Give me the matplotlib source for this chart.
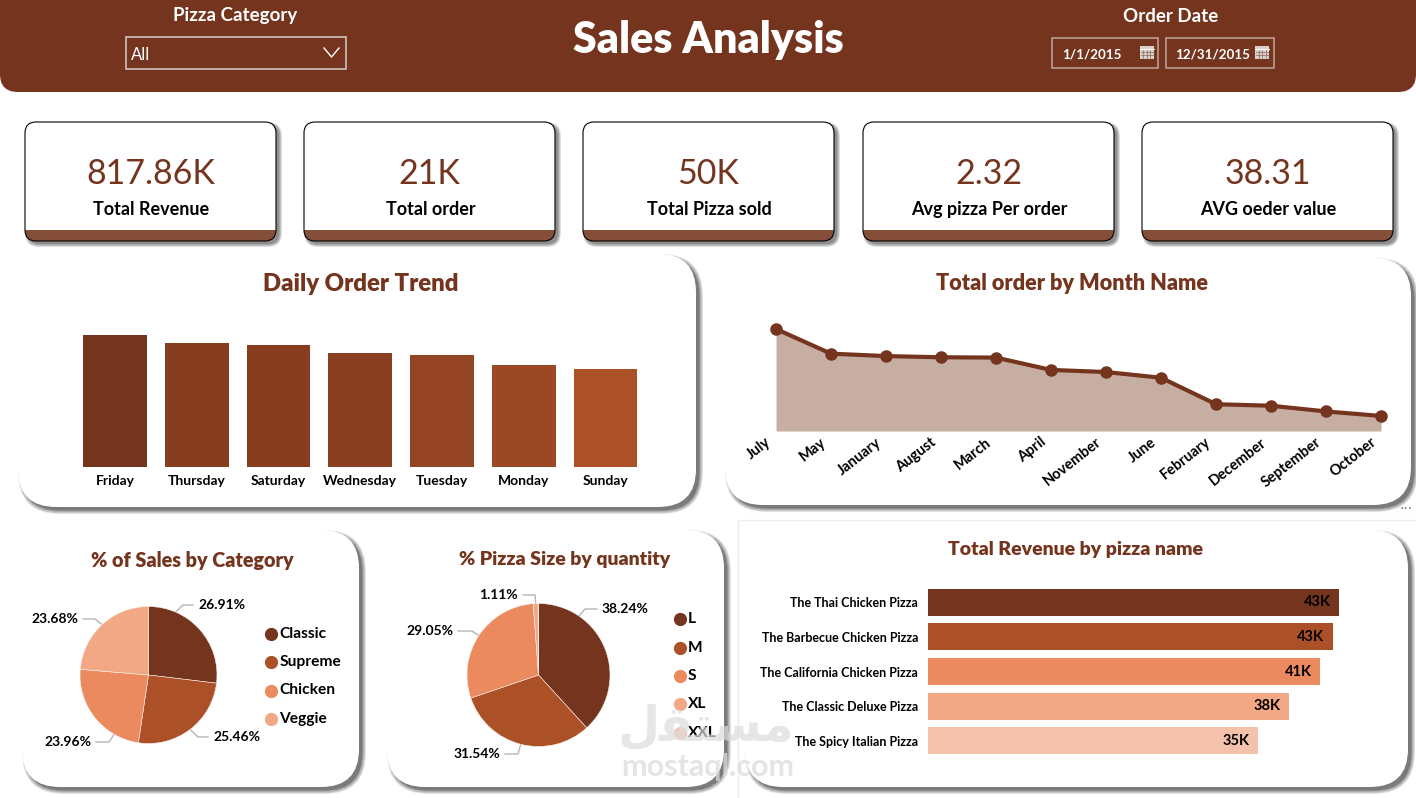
import numpy as np
import matplotlib
matplotlib.use('Agg')
import matplotlib.pyplot as plt
from matplotlib.patches import FancyBboxPatch, Rectangle
from matplotlib.transforms import ScaledTranslation

FONT = ['Lato', 'DejaVu Sans']

BROWN = '#74341E'
BAND = '#844E38'
PALETTE = ['#74341E', '#AC5028', '#EB895F', '#F2A885', '#F4C2AB']

# dashboard values
kpi_values = ['817.86K', '21K', '50K', '2.32', '38.31']
kpi_names = ['Total Revenue', 'Total order', 'Total Pizza sold', 'Avg pizza Per order', 'AVG oeder value']

days = ['Friday', 'Thursday', 'Saturday', 'Wednesday', 'Tuesday', 'Monday', 'Sunday']
day_orders = [3540, 3325, 3270, 3060, 3005, 2735, 2630]
day_colors = ['#74341E', '#873D20', '#883D20', '#8B3F22', '#954425', '#9B4826', '#AC5028']

months = ['July', 'May', 'January', 'August', 'March', 'April', 'November',
          'June', 'February', 'December', 'September', 'October']
month_orders = [1935, 1853, 1845, 1841, 1840, 1799, 1792, 1773, 1685, 1680, 1661, 1646]

categories = ['Classic', 'Supreme', 'Chicken', 'Veggie']
category_share = [26.91, 25.46, 23.96, 23.68]

sizes = ['L', 'M', 'S', 'XL', 'XXL']
size_share = [38.24, 31.54, 29.05, 1.11, 0.07]
size_labels = ['38.24%', '31.54%', '29.05%', '1.11%', None]

pizza_names = ['The Thai Chicken Pizza', 'The Barbecue Chicken Pizza', 'The California Chicken Pizza',
               'The Classic Deluxe Pizza', 'The Spicy Italian Pizza']
pizza_revenue = [43434, 42768, 41410, 38181, 34832]

W, H = 1416, 798
fig = plt.figure(figsize=(W / 100, H / 100), dpi=100, facecolor='white')

# full-size layer in pixel units for the boxes and free text
bg = fig.add_axes([0, 0, 1, 1], zorder=0)
bg.set_xlim(0, W)
bg.set_ylim(H, 0)
bg.axis('off')


def px_axes(x0, y0, x1, y1):
    ax = fig.add_axes([x0 / W, 1 - y1 / H, (x1 - x0) / W, (y1 - y0) / H], zorder=2)
    ax.patch.set_alpha(0)
    for s in ax.spines.values():
        s.set_visible(False)
    return ax


def rounded(x0, y0, x1, y1, r, **kw):
    p = FancyBboxPatch((x0, y0), x1 - x0, y1 - y0, boxstyle=f'round,pad=0,rounding_size={r}', **kw)
    bg.add_patch(p)
    return p


def shadow(x0, y0, x1, y1, r, off=3.5, levels=5, dark=0.6):
    # stacked translucent boxes, kept inside the offset so nothing shows top and left
    step = off / levels
    for i in range(levels, 0, -1):
        g = i * step
        rounded(x0 + off - g, y0 + off - g, x1 + off + g, y1 + off + g, r + g,
                fc='#404040', ec='none', alpha=0.12)
    rounded(x0 + off, y0 + off, x1 + off, y1 + off, r, fc='#606060', ec='none', alpha=dark)


def panel(x0, y0, x1, y1, r=38):
    shadow(x0, y0, x1, y1, r)
    rounded(x0, y0, x1, y1, r, fc='white', ec='none')


# header band
rounded(0, -60, W, 92, 18, fc=BROWN, ec='none')
bg.text(235.5, 15, 'Pizza Category', color='white', fontsize=13.5, family=FONT, weight='bold', ha='center', va='center')
bg.add_patch(Rectangle((125.5, 36.5), 220, 32, fc='none', ec='#D5CCC8', lw=1.1))
bg.text(131, 55, 'All', color='white', fontsize=12, family=FONT, ha='left', va='center')
bg.plot([324, 331.5, 339], [48, 57, 48], color='white', lw=1)
bg.text(708, 40, 'Sales Analysis', color='white', fontsize=31, family=FONT, weight='heavy', ha='center', va='center')
bg.text(1170.5, 17, 'Order Date', color='white', fontsize=13.5, family=FONT, weight='bold', ha='center', va='center')
for x0, x1, label, tx, ix in [(1052, 1158, '1/1/2015', 1062, 1146.5), (1166, 1274, '12/31/2015', 1175, 1262)]:
    bg.add_patch(Rectangle((x0, 38), x1 - x0, 30, fc='none', ec='#BFA79D', lw=1.1))
    bg.text(tx, 54.5, label, color='white', fontsize=9.6, family=FONT, weight='bold', ha='left', va='center')
    # calendar icon
    bg.add_patch(Rectangle((ix - 7, 45.5), 14, 13, fc='#D9CFCB', ec='none'))
    bg.plot([ix - 7, ix + 7], [48.5, 48.5], color='white', lw=0.8)
    for dx in (-3.5, 0, 3.5):
        bg.plot([ix + dx, ix + dx], [50, 58], color='#8A6A5C', lw=0.5)
    for dy in (52, 55):
        bg.plot([ix - 6, ix + 6], [dy, dy], color='#8A6A5C', lw=0.5)

# KPI cards
card_x = [25, 304, 583, 863, 1142]
for x0, val, name in zip(card_x, kpi_values, kpi_names):
    x1 = x0 + 251
    shadow(x0, 122, x1, 241, 11, off=3, levels=5, dark=0.3)
    rounded(x0, 122, x1, 241, 11, fc='white', ec='none')
    band = rounded(x0, 122, x1, 241, 11, fc=BAND, ec='none')
    band.set_clip_path(Rectangle((x0 - 2, 230), 255, 14, transform=bg.transData))
    rounded(x0, 122, x1, 241, 11, fc='none', ec='black', lw=0.8)
    cx = (x0 + x1) / 2
    bg.text(cx, 173.5, val, color=BROWN, fontsize=24.5, family=FONT, ha='center', va='center')
    bg.text(cx + 1, 209.5, name, color='black', fontsize=13, family=FONT, weight='bold', ha='center', va='center')

# white panels behind the charts
panel(18, 254, 696, 507)
panel(725, 258, 1411, 505)
panel(22, 530, 359, 787)
panel(387, 530, 724, 787)
bg.add_patch(Rectangle((737.5, 519.5), 700, 300, fc='white', ec='#EDEDED', lw=1))
panel(745, 530, 1408, 787)
bg.text(1406, 505, '...', color='#707070', fontsize=10, ha='center', va='center')

# watermark
bg.text(706, 727, '\ufedd\ufed8\ufe98\ufeb4\ufee3', color='#DCDCDC', fontsize=35, family='DejaVu Sans',
        weight='bold', ha='center', va='center', alpha=0.7, zorder=5)
bg.text(708, 767, 'mostaql.com', color='#DCDCDC', fontsize=22, family=FONT, weight='bold',
        ha='center', va='center', alpha=0.75, zorder=5)


def title(x, y, s, size=18):
    bg.text(x, y, s, color=BROWN, fontsize=size, family=FONT, weight='heavy', ha='center', va='center')


title(361, 284, 'Daily Order Trend', 17.2)
title(1072, 283.5, 'Total order by Month Name', 15.6)
title(192, 560, '% of Sales by Category', 14.2)
title(565, 560, '% Pizza Size by quantity', 14)
title(1076, 550, 'Total Revenue by pizza name', 14)

# daily bars
ax = px_axes(74.1, 335, 646.4, 467)
ax.bar(days, day_orders, width=0.78, color=day_colors)
ax.set_xlim(-0.5, 6.5)
ax.set_ylim(0, max(day_orders))
ax.set_yticks([])
ax.tick_params(axis='x', length=0, pad=6)
for t in ax.get_xticklabels():
    t.set_family(FONT)
    t.set_weight('bold')
    t.set_fontsize(10)

# monthly area, y axis is truncated
ax = px_axes(776, 329, 1381, 431)
xs = np.arange(len(months))
base = 1596
ax.fill_between(xs, month_orders, base, color='#C7AEA3', lw=0)
ax.plot(xs, month_orders, color=BROWN, lw=3, marker='o', ms=8, clip_on=False)
ax.set_xlim(0, 11)
ax.set_ylim(base, max(month_orders))
ax.set_yticks([])
ax.set_xticks(xs)
ax.set_xticklabels(months, rotation=38, ha='right', rotation_mode='anchor', family=FONT,
                   weight='bold', fontsize=10.5)
ax.tick_params(axis='x', length=0, pad=3)
shift = ScaledTranslation(-11 / 100, 0, fig.dpi_scale_trans)
for t in ax.get_xticklabels():
    t.set_transform(t.get_transform() + shift)


def pie_chart(cx, cy, r, shares, colors, labels, fracs, label_pos, legend, legend_x, legend_y):
    ax = px_axes(cx - r, cy - r, cx + r, cy + r)
    wedges, _ = ax.pie(shares, colors=colors, startangle=90, counterclock=False, radius=1,
                       wedgeprops={'lw': 0.4, 'ec': '#FBEFE9'})
    ax.set_xlim(-1, 1)
    ax.set_ylim(-1, 1)
    for w, lab, frac, (tx, ty, kink) in zip(wedges, labels, fracs, label_pos):
        if lab is None:
            continue
        # theta runs clockwise here, leader starts part-way along the arc
        a = np.radians(w.theta2 - frac * (w.theta2 - w.theta1))
        ex, ey = cx + r * np.cos(a), cy - r * np.sin(a)
        side = 1 if tx > kink else -1
        bg.plot([ex, kink, tx - side * 5], [ey, ty, ty], color='#B5B5B5', lw=1)
        bg.text(tx, ty, lab, ha='left' if side > 0 else 'right', va='center', fontsize=10,
                family=FONT, weight='bold', color='black')
    for name, col, ly in zip(legend, colors, legend_y):
        bg.plot([legend_x], [ly], 'o', ms=8.5, color=col)
        bg.text(legend_x + 8.5, ly, name, fontsize=11.2, family=FONT, weight='bold',
                ha='left', va='center', color='black')


pie_chart(148.5, 675, 68.5, category_share, PALETTE[:4],
          [f'{v:.2f}%' for v in category_share], [0.24, 0.5, 0.25, 0.5],
          [(198, 605, 183), (213, 737, 198), (91, 742, 109), (78, 619, 95)],
          categories, 271, [633.5, 662, 690.5, 719])
pie_chart(538.5, 675, 71.5, size_share, PALETTE, size_labels, [0.25, 0.5, 0.5, 0.5, 0.5],
          [(602, 609, 585), (500, 754, 518), (453, 631, 472), (518, 595, 535), (0, 0, 0)],
          sizes, 679.5, [619, 648, 676, 704, 733])

# revenue bars
ax = px_axes(928, 584.8, 1339, 758.3)
y = np.arange(len(pizza_names))
ax.barh(y, pizza_revenue, height=0.78, color=PALETTE)
ax.set_xlim(0, max(pizza_revenue))
ax.set_ylim(4.5, -0.5)
ax.set_xticks([])
ax.set_yticks(y)
ax.set_yticklabels(pizza_names, family=FONT, weight='bold', fontsize=9)
ax.tick_params(axis='y', length=0, pad=7)
for i, v in enumerate(pizza_revenue):
    ax.annotate(f'{v / 1000:.0f}K', (v, i), xytext=(-6, 0), textcoords='offset points', ha='right',
                va='center', fontsize=10.5, family=FONT, weight='bold', color='black')

fig.savefig('out.png', dpi=100)
